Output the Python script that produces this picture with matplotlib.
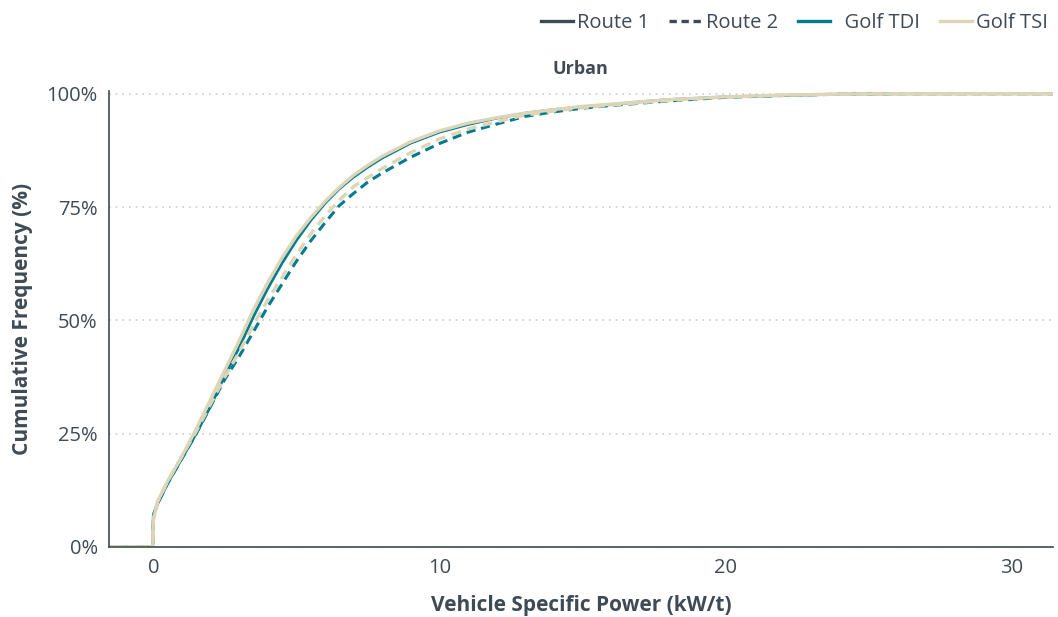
import numpy as np
import matplotlib
matplotlib.use('Agg')
import matplotlib.pyplot as plt
from matplotlib.lines import Line2D

plt.rcParams['font.family'] = ['Open Sans', 'DejaVu Sans']

# cumulative VSP distributions, urban section
vsp = [-1.5, -0.02, 0, 0.15, 0.5, 1.0, 1.5, 2.0, 2.5, 3.0, 3.5, 4.0, 4.5, 5.0, 5.5,
       6.0, 6.5, 7.0, 7.5, 8.0, 9.0, 10, 11, 12, 13, 14, 15, 16, 17, 18, 20,
       22, 24, 26, 31.5]
tdi_route1 = [0, 0, 7, 9.5, 14, 19.5, 25, 31, 37.8, 44, 50.8, 57, 62.6, 67.6, 72,
              75.8, 79, 81.6, 83.8, 85.8, 89.1, 91.5, 93.2, 94.6, 95.7, 96.5, 97.1,
              97.6, 98.2, 98.7, 99.3, 99.6, 99.9, 100, 100]
tdi_route2 = [0, 0, 7, 9.5, 14, 19.5, 25, 31, 37, 42, 47.5, 53, 58, 63, 67.5,
              71.5, 75.3, 78, 80.5, 82.5, 86, 89, 91.5, 93.3, 95, 96, 96.8,
              97.4, 97.9, 98.4, 99.2, 99.6, 99.9, 100, 100]
tsi_route1 = [0, 0, 6, 10, 14.5, 20, 26, 32.5, 39, 45.5, 52.3, 58.3, 63.8, 68.6,
              72.6, 76.2, 79.3, 82, 84.2, 86.2, 89.4, 91.8, 93.5, 94.7, 95.7, 96.5,
              97.2, 97.7, 98.2, 98.7, 99.3, 99.7, 99.9, 100, 100]
tsi_route2 = [0, 0, 6, 10, 14.5, 20, 25.5, 31.5, 37.5, 43, 49, 54.5, 59.5, 64.5,
              69, 73, 76.5, 79.5, 81.5, 83.5, 87, 90, 92.2, 93.8, 95.3, 96.2,
              96.9, 97.5, 98, 98.5, 99.3, 99.7, 99.9, 100, 100]

teal = '#007B8F'
beige = '#DDD5B5'
dark = '#3E4A55'

fig = plt.figure(figsize=(10.58, 6.17), dpi=100)
ax = fig.add_axes([0.103, 0.1135, 0.892, 0.739])

ax.plot(vsp, tdi_route1, color=teal, lw=2.0)
ax.plot(vsp, tdi_route2, color=teal, lw=2.2, dashes=(3, 1.9))
ax.plot(vsp, tsi_route1, color=beige, lw=2.4)
ax.plot(vsp, tsi_route2, color=beige, lw=2.4, dashes=(3, 1.9))

ax.set_xlim(-1.55, 31.45)
ax.set_ylim(0, 100.6)
ax.set_xticks([0, 10, 20, 30])
ax.set_yticks([0, 25, 50, 75, 100])
ax.set_yticklabels(['0%', '25%', '50%', '75%', '100%'])
ax.tick_params(length=0, labelsize=14.5, colors=dark, pad=8)
ax.grid(axis='y', color='#CCCCCC', linestyle=(0, (1, 3)), lw=1.2)
ax.set_axisbelow(True)
for s in ['top', 'right']:
    ax.spines[s].set_visible(False)
for s in ['left', 'bottom']:
    ax.spines[s].set_color(dark)
    ax.spines[s].set_linewidth(1.2)

ax.set_xlabel('Vehicle Specific Power (kW/t)', fontsize=15, fontweight='bold',
              color=dark, labelpad=12)
ax.set_ylabel('Cumulative Frequency (%)', fontsize=15, fontweight='bold',
              color=dark, labelpad=10)
ax.set_title('Urban', fontsize=13, fontweight='bold', color=dark, pad=12)

handles = [Line2D([], [], color=dark, lw=2.4),
           Line2D([], [], color=dark, lw=2.4, dashes=(2.2, 1.4)),
           Line2D([], [], color=teal, lw=2.4),
           Line2D([], [], color=beige, lw=2.4)]
labels = ['Route 1', 'Route 2', '  Golf TDI', 'Golf TSI']
fig.legend(handles, labels, loc='upper right', bbox_to_anchor=(1.008, 1.008),
           ncol=4, frameon=False, fontsize=14.5, handlelength=1.6,
           handletextpad=0.2, columnspacing=1.0, labelcolor=dark)

fig.savefig('out.png', dpi=100)
